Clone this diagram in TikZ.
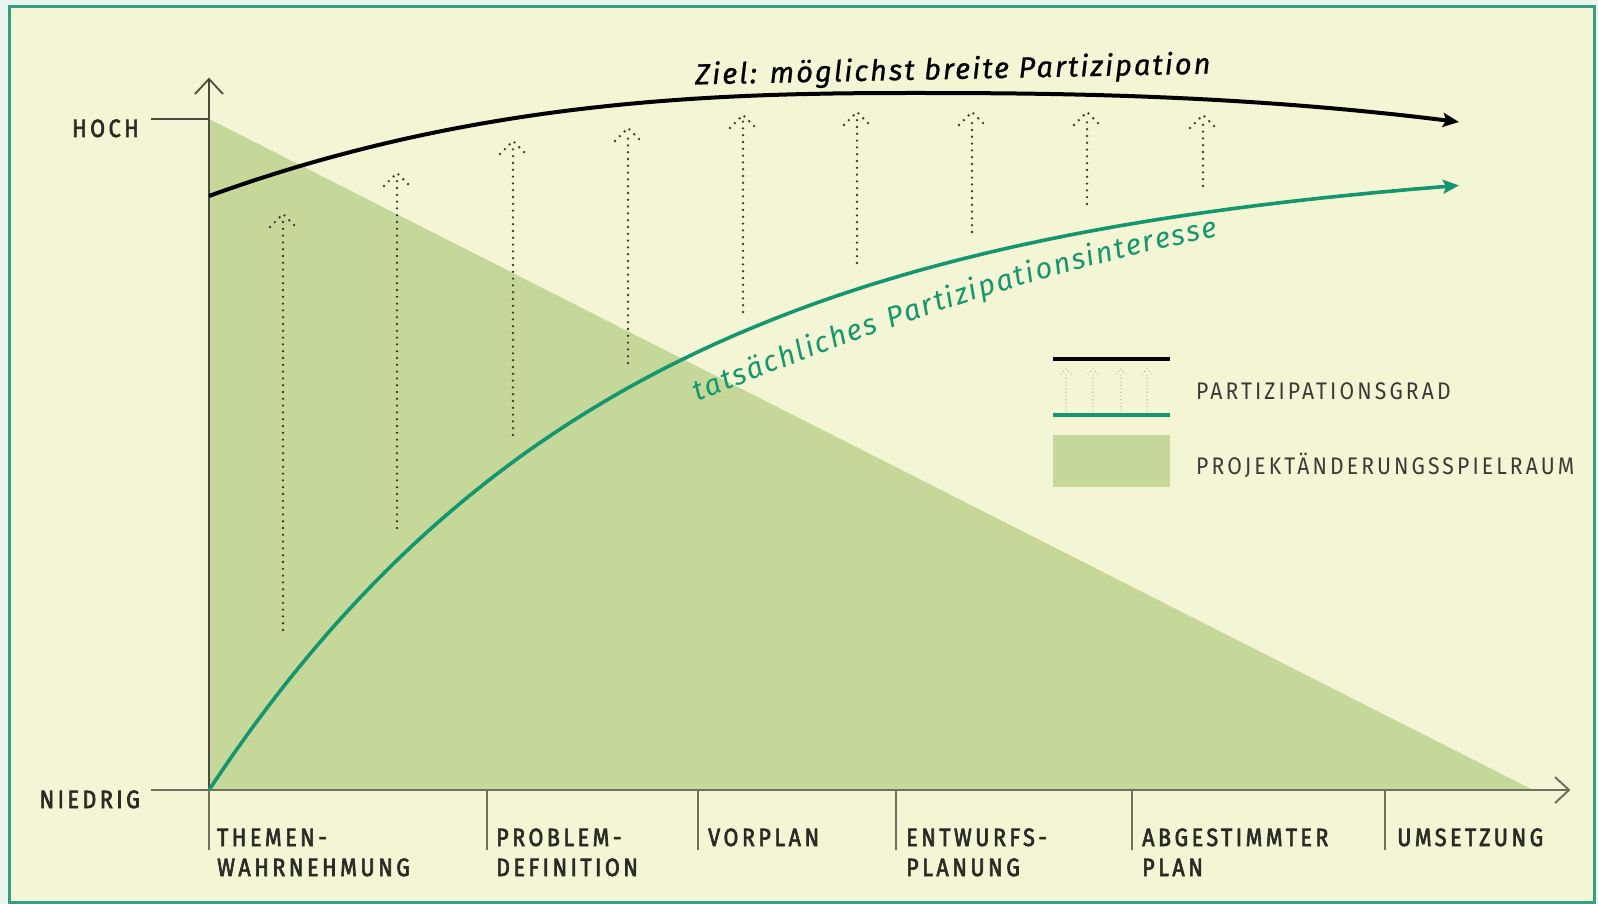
\documentclass[tikz,border=0pt]{standalone}
\usepackage{fontspec}
\setmainfont{Fira Sans}
\newfontfamily\labfont{Fira Sans}[LetterSpace=14,FakeStretch=0.86,FakeBold=2.5]
\newfontfamily\legfont{Fira Sans}[LetterSpace=13,FakeStretch=0.88]
\newfontfamily\curvefont{Fira Sans}[LetterSpace=7,FakeBold=0.8]
\newfontfamily\greenfont{Fira Sans}[LetterSpace=0]
\usetikzlibrary{arrows.meta,decorations.text}
\definecolor{outerc}{HTML}{E8F4EC}
\definecolor{bgcream}{HTML}{F3F5D4}
\definecolor{framec}{HTML}{3A9D87}
\definecolor{trig}{HTML}{C5D89A}
\definecolor{curvegreen}{HTML}{14966F}
\definecolor{axisc}{HTML}{4A4A40}
\definecolor{xaxisc}{HTML}{707060}
\definecolor{dotc}{HTML}{3A3A30}
\definecolor{legdotc}{HTML}{A8A896}
\definecolor{labtext}{HTML}{2B2B25}
\definecolor{legtext}{HTML}{3A3A35}
\newcommand\greentext{\greenfont\itshape\fontsize{29}{29}\selectfont\color{curvegreen}}
\begin{document}
\begin{tikzpicture}[x=1pt,y=-1pt,
  dotarrow/.style={draw=dotc,line width=2.6pt,line cap=round,dash pattern=on 0pt off 6.8pt},
  legdot/.style={draw=legdotc,line width=1.2pt,line cap=round,dash pattern=on 0pt off 3.5pt},
  axisline/.style={draw=axisc,line width=1.8pt},
  xaxisline/.style={draw=xaxisc,line width=2pt},
  sep/.style={draw=xaxisc,line width=1.5pt},
  blackcurve/.style={draw=black,line width=4pt,-{Stealth[length=16pt,width=14pt,inset=3pt]}},
  greencurve/.style={draw=curvegreen,line width=3.6pt,-{Stealth[length=16pt,width=14pt,inset=3pt]}},
  lab/.style={font=\labfont\fontsize{25}{28}\selectfont,text=labtext,inner sep=0pt,anchor=base west},
  axlab/.style={font=\labfont\fontsize{25}{28}\selectfont,text=labtext,inner sep=0pt,anchor=base east},
  leglab/.style={font=\legfont\fontsize{24}{28}\selectfont,text=legtext,inner sep=0pt,anchor=base west}]
\useasboundingbox (0,0) rectangle (1598,904);
\fill[outerc] (0,0) rectangle (1598,904);
\filldraw[fill=bgcream,draw=framec,line width=3pt] (9,7) rectangle (1594,902);
% triangle
\coordinate (hoch) at (209,119);
\coordinate (orig) at (209,790);
\coordinate (tend) at (1533,790);
\fill[trig] (hoch) -- (tend) -- (orig) -- cycle;
% dotted arrows
\foreach \x/\t/\b in {283/214/630,397/173/528,513/141/435,628/128/363,743/115/312,857/112/263,972/112/232,1087/112/204,1203/115/186}{
  \draw[dotarrow] (\x,\b) -- ({\x},{\t+6});
  \draw[dotarrow] ({\x-13},{\t+13}) -- (\x,\t) -- ({\x+13},{\t+13});
}
% axes
\coordinate (ytop) at (209,79);
\coordinate (xend) at (1569,790);
\coordinate (hl) at (151,119);
\coordinate (nl) at (151,790);
\draw[axisline] (orig) -- (ytop);
\draw[axisline] (195,94) -- (ytop) -- (223,94);
\draw[axisline] (hl) -- (hoch);
\draw[xaxisline] (nl) -- (xend);
\draw[xaxisline] (1555,777) -- (xend) -- (1555,803);
\foreach \x in {209,487,698,896,1132,1385}{\draw[sep] (\x,790) -- (\x,850);}
% curves
\draw[greencurve] plot[domain=209:1459,samples=150] (\x,{790-637*(1-exp(-(\x-209)/420))});
\draw[blackcurve] plot[domain=209:1459,samples=150] (\x,{(\x<917) ? (93+103*pow(abs(917-\x)/708+0.0001,2.5)) : (93+29*pow(abs(\x-917)/542+0.0001,2.4))});
% curve texts
\node[font=\curvefont\itshape\fontsize{29}{29}\selectfont,text=black,rotate=1.2,anchor=base,inner sep=0pt] (ziel) at (953,79) {Ziel: möglichst breite Partizipation};
\path[decorate,decoration={text along path,text align={fit to path},text={|\greentext|tatsächliches Partizipationsinteresse}}] (697,402) .. controls (877,329) and (1038,272) .. (1218,237);
% axis labels
\node[axlab] (hochlab) at (139,137) {HOCH};
\node[axlab] (niedlab) at (140,808) {NIEDRIG};
\node[lab] (l1a) at (217,846) {THEMEN-};
\node[lab] (l1b) at (217,876) {WAHRNEHMUNG};
\node[lab] (l2a) at (496,846) {PROBLEM-};
\node[lab] (l2b) at (496,876) {DEFINITION};
\node[lab] (l3a) at (708,846) {VORPLAN};
\node[lab] (l4a) at (906,846) {ENTWURFS-};
\node[lab] (l4b) at (906,876) {PLANUNG};
\node[lab] (l5a) at (1142,846) {ABGESTIMMTER};
\node[lab] (l5b) at (1142,876) {PLAN};
\node[lab] (l6a) at (1397,846) {UMSETZUNG};
% legend
\coordinate (lb1) at (1053,359); \coordinate (lb2) at (1170,359);
\coordinate (lg1) at (1053,415); \coordinate (lg2) at (1170,415);
\draw[draw=black,line width=4pt] (lb1) -- (lb2);
\foreach \x in {1066,1093,1121,1147}{
  \draw[legdot] (\x,410) -- (\x,372);
  \draw[legdot] ({\x-5},{374}) -- (\x,369) -- ({\x+5},374);
}
\draw[draw=curvegreen,line width=4pt] (lg1) -- (lg2);
\fill[trig] (1053,435) rectangle (1170,487);
\node[leglab] (leg1) at (1196,399) {PARTIZIPATIONSGRAD};
\node[leglab] (leg2) at (1196,474) {PROJEKTÄNDERUNGSSPIELRAUM};
\end{tikzpicture}
\end{document}
